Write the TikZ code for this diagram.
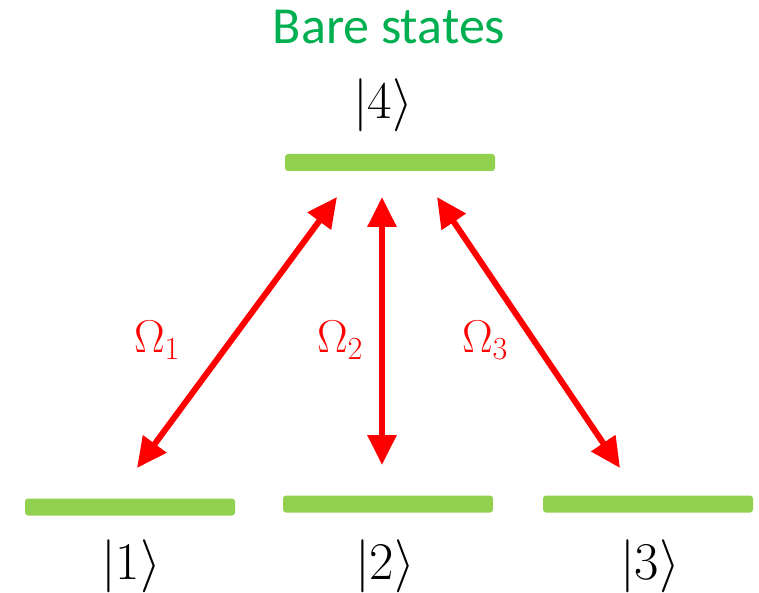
\RequirePackage{fix-cm}
\documentclass[tikz,border=0pt]{standalone}
\usepackage{fontspec}
\newfontfamily\titlefont{Carlito}
\usetikzlibrary{arrows.meta}
\definecolor{bargreen}{HTML}{92D050}
\definecolor{titlegreen}{HTML}{00B050}
\definecolor{arrowred}{HTML}{FF0000}
\begin{document}
\begin{tikzpicture}[x=1pt,y=-1pt,
  level/.style={rectangle,fill=bargreen,draw=none,rounded corners=3pt,minimum width=210pt,minimum height=17pt,inner sep=0pt},
  ket/.style={inner sep=0pt,font=\fontsize{53}{53}\selectfont},
  rabi/.style={inner sep=0pt,text=arrowred,font=\fontsize{46}{46}\selectfont},
  coupling/.style={draw=arrowred,line width=6pt,{Triangle[length=30pt,width=28pt]}-{Triangle[length=30pt,width=28pt]}}]
\useasboundingbox (0,0) rectangle (759,593);
\node[inner sep=0pt,text=titlegreen,font=\titlefont\fontsize{52}{52}\selectfont] (title) at (389,27) {Bare states};
\node[level] (l4) at (390,162.5) {};
\node[level] (l1) at (130,507) {};
\node[level] (l2) at (388,504) {};
\node[level] (l3) at (648,504) {};
\node[ket] (k4) at (383,105) {$|4\rangle$};
\node[ket] (k1) at (131,566) {$|1\rangle$};
\node[ket] (k2) at (385,566) {$|2\rangle$};
\node[ket] (k3) at (650,566) {$|3\rangle$};
\coordinate (t1) at (337,197);
\coordinate (b1) at (137,468);
\coordinate (t2) at (382,197);
\coordinate (b2) at (382,465);
\coordinate (t3) at (437,197);
\coordinate (b3) at (620,468);
\draw[coupling] (b1) -- (t1);
\draw[coupling] (b2) -- (t2);
\draw[coupling] (b3) -- (t3);
\node[rabi] (o1) at (157,340) {$\Omega_1$};
\node[rabi] (o2) at (340,340) {$\Omega_2$};
\node[rabi] (o3) at (485,340) {$\Omega_3$};
\end{tikzpicture}
\end{document}
